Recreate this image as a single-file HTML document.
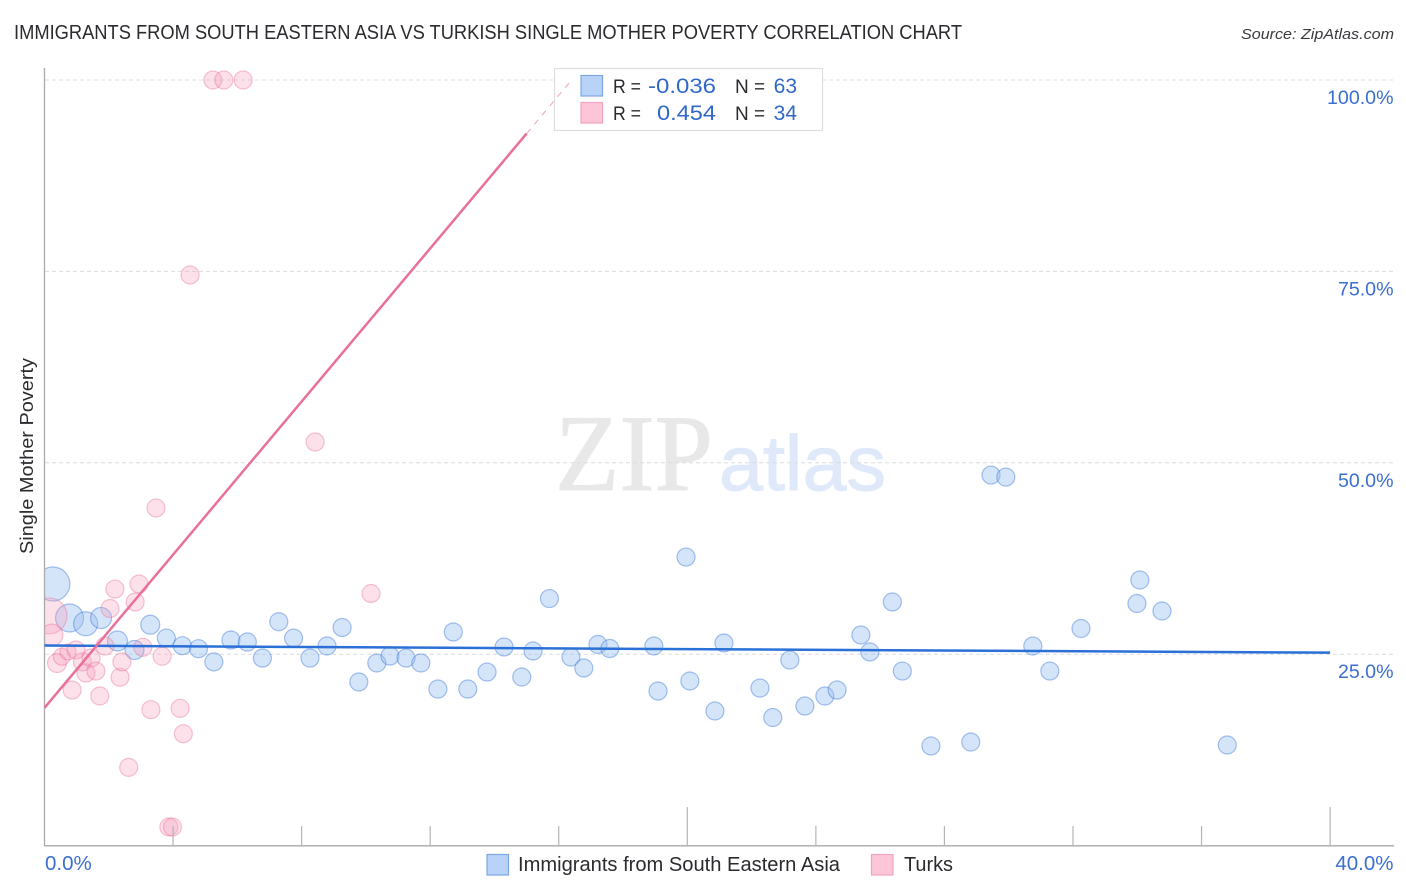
<!DOCTYPE html>
<html lang="en">
<head>
<meta charset="utf-8">
<title>Immigrants from South Eastern Asia vs Turkish Single Mother Poverty Correlation Chart</title>
<style>
html,body{margin:0;padding:0;background:#fff;width:1406px;height:892px;overflow:hidden}
svg{display:block;font-family:"Liberation Sans",sans-serif}
</style>
</head>
<body>
<svg id="chart" width="1406" height="892" viewBox="0 0 1406 892">
  <text x="14" y="39" font-size="20" fill="#2b2b2f" textLength="948" lengthAdjust="spacingAndGlyphs">IMMIGRANTS FROM SOUTH EASTERN ASIA VS TURKISH SINGLE MOTHER POVERTY CORRELATION CHART</text>
  <text x="1394" y="39" font-size="15" font-style="italic" fill="#3a3a3e" text-anchor="end" textLength="153" lengthAdjust="spacingAndGlyphs">Source: ZipAtlas.com</text>
  <text x="555" y="490" font-family="'Liberation Serif',serif" font-size="109" fill="#e8e8e8" stroke="#e8e8e8" stroke-width="1" textLength="158" lengthAdjust="spacingAndGlyphs">ZIP</text>
  <text x="719" y="490" font-size="78" fill="#dfe9f9" stroke="#dfe9f9" stroke-width="1" textLength="167" lengthAdjust="spacingAndGlyphs">atlas</text>
  <g id="grid"></g>
  <svg x="45" y="60" width="1349" height="786" viewBox="45 60 1349 786" overflow="hidden">
    <g id="series-blue"></g>
    <g id="series-pink"></g>
  </svg>
  <rect x="0" y="560" width="44.5" height="90" fill="#fff"/>
  <text transform="translate(33,456) rotate(-90)" font-size="18.5" fill="#2b2b2f" text-anchor="middle" textLength="196" lengthAdjust="spacingAndGlyphs">Single Mother Poverty</text>
  <g id="axes"></g>
  <g>
    <rect x="554.5" y="68.5" width="268" height="62" fill="#fff" stroke="#dedede" stroke-width="1.2"/>
    <rect x="581" y="75.5" width="21.5" height="20.5" fill="#b8d3f7" stroke="#7ba7e3" stroke-width="1.2"/>
    <rect x="581" y="102.5" width="21.5" height="20.5" fill="#fcc6d8" stroke="#f0a3bc" stroke-width="1.2"/>
    <text x="613" y="93" font-size="19" fill="#2b2b2f" textLength="28" lengthAdjust="spacingAndGlyphs">R =</text>
    <text x="716" y="93" font-size="21" fill="#3068c8" text-anchor="end" textLength="68" lengthAdjust="spacingAndGlyphs">-0.036</text>
    <text x="735" y="93" font-size="19" fill="#2b2b2f">N =</text>
    <text x="797" y="93" font-size="21" fill="#3068c8" text-anchor="end">63</text>
    <text x="613" y="120" font-size="19" fill="#2b2b2f" textLength="28" lengthAdjust="spacingAndGlyphs">R =</text>
    <text x="716" y="120" font-size="21" fill="#3068c8" text-anchor="end" textLength="59" lengthAdjust="spacingAndGlyphs">0.454</text>
    <text x="735" y="120" font-size="19" fill="#2b2b2f">N =</text>
    <text x="797" y="120" font-size="21" fill="#3068c8" text-anchor="end">34</text>
  </g>
  <g id="trends"></g>
  <g>
    <rect x="487" y="854.5" width="21.5" height="20.5" fill="#b8d3f7" stroke="#7ba7e3" stroke-width="1.2"/>
    <text x="518" y="871" font-size="20" fill="#2b2b2f" textLength="322" lengthAdjust="spacingAndGlyphs">Immigrants from South Eastern Asia</text>
    <rect x="871.5" y="854.5" width="21.5" height="20.5" fill="#fcc6d8" stroke="#f0a3bc" stroke-width="1.2"/>
    <text x="904" y="871" font-size="20" fill="#2b2b2f" textLength="49" lengthAdjust="spacingAndGlyphs">Turks</text>
  </g>
</svg>
<script>
const blueX = [0.26,0.78,1.28,1.76,2.27,2.80,3.29,3.79,4.29,4.79,5.27,5.80,6.31,6.78,7.29,7.75,8.26,8.79,9.26,9.78,10.34,10.75,11.25,11.71,12.24,12.72,13.17,13.77,14.30,14.85,15.20,15.71,16.38,16.78,17.22,17.59,18.96,19.09,19.96,20.08,20.86,21.14,22.26,22.66,23.19,23.66,24.28,24.66,25.40,25.68,26.38,26.69,27.58,28.82,29.45,29.91,30.75,31.28,32.25,33.99,34.08,34.77,36.80];
const blueY = [34.17,29.73,28.98,29.73,26.72,25.55,28.85,27.11,26.11,25.72,24.00,26.85,26.59,24.50,29.24,27.11,24.50,26.07,28.49,21.37,23.85,24.76,24.50,23.85,20.45,27.90,20.45,22.67,25.94,22.02,25.42,32.27,24.63,23.20,26.27,25.74,26.07,20.19,37.69,21.50,17.58,26.46,20.58,16.73,24.24,18.23,19.54,20.32,27.51,25.29,31.82,22.80,13.01,13.53,48.40,48.14,26.07,22.80,28.36,31.62,34.69,30.64,13.14];
const blueWeight = [289,196,144,110,100,90,90,81,81,81,81,81,81,81,81,81,81,81,81,81,81,81,81,81,81,81,81,81,81,81,81,81,81,81,81,81,81,81,81,81,81,81,81,81,81,81,81,81,81,81,81,81,81,81,81,81,81,81,81,81,81,81,81];
const pinkX = [5.24,5.58,6.18,4.53,8.42,3.47,10.16,2.19,2.94,2.82,2.04,0.14,0.23,0.39,0.54,0.73,0.98,0.86,1.18,1.29,1.45,1.60,1.72,1.88,2.35,2.41,3.06,3.66,3.31,4.22,4.32,2.62,3.87,3.98];
const pinkY = [100,100,100,74.53,52.72,44.10,32.93,33.51,34.17,31.82,30.97,30.00,27.50,23.85,24.67,25.29,25.55,20.32,24.00,22.54,24.50,22.80,19.54,26.07,22.00,24.00,25.90,24.73,17.75,17.93,14.61,10.22,2.43,2.43];
const pinkWeight = [81,81,81,81,81,81,81,81,81,81,81,324,121,90,72,64,81,81,81,81,81,81,81,81,81,81,81,81,81,81,81,81,81,81];
const blueTrendX = [0,40];
const blueTrendY = [26.13,25.20];
const pinkTrendSolidX = [0,15];
const pinkTrendSolidY = [18,93];
const pinkTrendDashX = [15,16.4];
const pinkTrendDashY = [93,100];
const xTicks = [0,4,8,12,16,20,24,28,32,36,40];
const xMajorTicks = [0,20,40];
const xTickLabels = ["0.0%","40.0%"];
const yTicks = [25,50,75,100];
const yTickLabels = ["25.0%","50.0%","75.0%","100.0%"];

const NS = 'http://www.w3.org/2000/svg';
const sx = v => 44.5 + v * 32.14;
const sy = v => 845.6 - v * 7.656;
const sr = w => Math.sqrt(w);
function mk(tag, parent, attrs) {
  const el = document.createElementNS(NS, tag);
  for (const k in attrs) el.setAttribute(k, attrs[k]);
  parent.appendChild(el);
  return el;
}
const grid = document.getElementById('grid');
const axes = document.getElementById('axes');
const trends = document.getElementById('trends');
const seriesBlue = document.getElementById('series-blue');
const seriesPink = document.getElementById('series-pink');

yTicks.forEach((t, i) => {
  const g = mk('line', grid, {x1: 45, x2: 1394, y1: sy(t), y2: sy(t), stroke: '#dcdcdc', 'stroke-width': 1, 'stroke-dasharray': '4 3'});
  
  
  const lb = mk('text', axes, {x: 1393.5, y: sy(t) + 24, 'font-size': 19.6, fill: '#3a6fd0', 'text-anchor': 'end'});
  lb.textContent = yTickLabels[i];
  
  
});

const yAxis = mk('line', axes, {x1: 44.5, x2: 44.5, y1: 68, y2: 846, stroke: '#aaaaaa', 'stroke-width': 1.3});


const xAxis = mk('line', axes, {x1: 44, x2: 1394, y1: 845.8, y2: 845.8, stroke: '#aaaaaa', 'stroke-width': 1.3});



xTicks.forEach(t => {
  if (t === 0) return;
  const top = xMajorTicks.includes(t) ? 807 : 826;
  const k = mk('line', axes, {x1: sx(t), x2: sx(t), y1: top, y2: 846, stroke: '#b4b4b4', 'stroke-width': 1.2});
  
  
});

const xl0 = mk('text', axes, {x: 45, y: 870, 'font-size': 20.5, fill: '#3a6fd0'});
xl0.textContent = xTickLabels[0];


const xl1 = mk('text', axes, {x: 1393.5, y: 870, 'font-size': 20.5, fill: '#3a6fd0', 'text-anchor': 'end'});
xl1.textContent = xTickLabels[1];



blueX.forEach((v, i) => {
  const c = mk('circle', seriesBlue, {cx: sx(v), cy: sy(blueY[i]), r: sr(blueWeight[i]), fill: 'rgba(150,190,240,0.4)', stroke: 'rgba(60,120,215,0.45)', 'stroke-width': 1.2});
  
  
});
pinkX.forEach((v, i) => {
  const c = mk('circle', seriesPink, {cx: sx(v), cy: sy(pinkY[i]), r: sr(pinkWeight[i]), fill: 'rgba(245,160,190,0.32)', stroke: 'rgba(232,110,150,0.4)', 'stroke-width': 1.2});
  
  
});

const tb = mk('line', trends, {x1: sx(blueTrendX[0]), y1: sy(blueTrendY[0]), x2: sx(blueTrendX[1]), y2: sy(blueTrendY[1]), stroke: '#2a70d6', 'stroke-width': 2.5});


const tp = mk('line', trends, {x1: sx(pinkTrendSolidX[0]), y1: sy(pinkTrendSolidY[0]), x2: sx(pinkTrendSolidX[1]), y2: sy(pinkTrendSolidY[1]), stroke: '#e8709a', 'stroke-width': 2.5});


const td = mk('line', trends, {x1: sx(pinkTrendDashX[0]), y1: sy(pinkTrendDashY[0]), x2: sx(pinkTrendDashX[1]), y2: sy(pinkTrendDashY[1]), stroke: '#f0a0bc', 'stroke-width': 1, 'stroke-dasharray': '6 6'});


</script>
</body>
</html>
